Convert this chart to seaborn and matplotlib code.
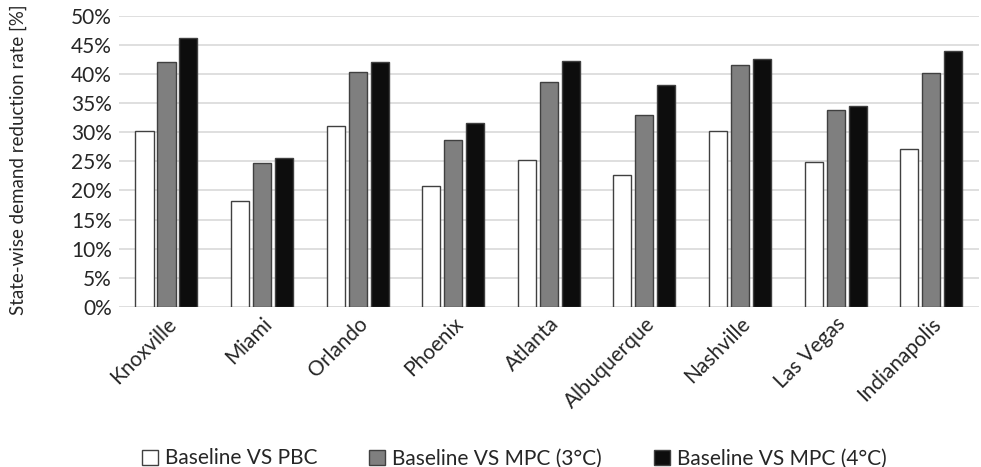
import matplotlib
matplotlib.use("Agg")
import matplotlib.pyplot as plt
import seaborn as sns
import pandas as pd
from matplotlib.ticker import PercentFormatter

cities = ["Knoxville", "Miami", "Orlando", "Phoenix", "Atlanta",
          "Albuquerque", "Nashville", "Las Vegas", "Indianapolis"]
series = ["Baseline VS PBC", "Baseline VS MPC (3°C)", "Baseline VS MPC (4°C)"]
pbc = [30.2, 18.1, 31.1, 20.7, 25.3, 22.7, 30.2, 24.9, 27.1]
mpc3 = [42.0, 24.7, 40.4, 28.7, 38.6, 32.9, 41.5, 33.8, 40.2]
mpc4 = [46.2, 25.6, 42.0, 31.6, 42.3, 38.2, 42.6, 34.5, 43.9]
colors = ["#ffffff", "#7f7f7f", "#0d0d0d"]

rows = []
for s, vals in zip(series, [pbc, mpc3, mpc4]):
    for c, v in zip(cities, vals):
        rows.append({"city": c, "series": s, "value": v})
df = pd.DataFrame(rows)

sns.set_style("white")
plt.rcParams["font.family"] = ["Lato", "DejaVu Sans"]

fig = plt.figure(figsize=(9.81, 4.67), dpi=100)
ax = fig.add_axes([0.121, 0.343, 0.877, 0.623])

sns.barplot(data=df, x="city", y="value", hue="series", order=cities,
            hue_order=series, palette=colors, width=0.69, gap=0.18,
            edgecolor="#404040", linewidth=1.0, ax=ax, legend=True)

ax.set_ylim(0, 50)
ax.set_yticks(range(0, 51, 5))
ax.yaxis.set_major_formatter(PercentFormatter(decimals=0))
ax.set_xlim(-0.5, len(cities) - 0.5)
ax.grid(axis="y", color="#d9d9d9", linewidth=1.2)
ax.set_axisbelow(True)
for sp in ax.spines.values():
    sp.set_visible(False)
ax.tick_params(axis="both", length=0, labelsize=15, colors="#262626", pad=5)
plt.setp(ax.get_xticklabels(), rotation=45, ha="right", rotation_mode="anchor")
ax.set_xlabel("")
ax.set_ylabel("State-wise demand reduction rate [%]", fontsize=13.5, color="#262626")
ax.yaxis.set_label_coords(-0.107, 0.505)

handles, labels = ax.get_legend_handles_labels()
ax.legend(handles, labels, loc="lower center", bbox_to_anchor=(0.46, -0.62),
          ncol=3, frameon=False, fontsize=15, handlelength=0.75, handleheight=0.75,
          columnspacing=2.5, handletextpad=0.35, labelcolor="#262626")

fig.savefig("out.png", dpi=100)
